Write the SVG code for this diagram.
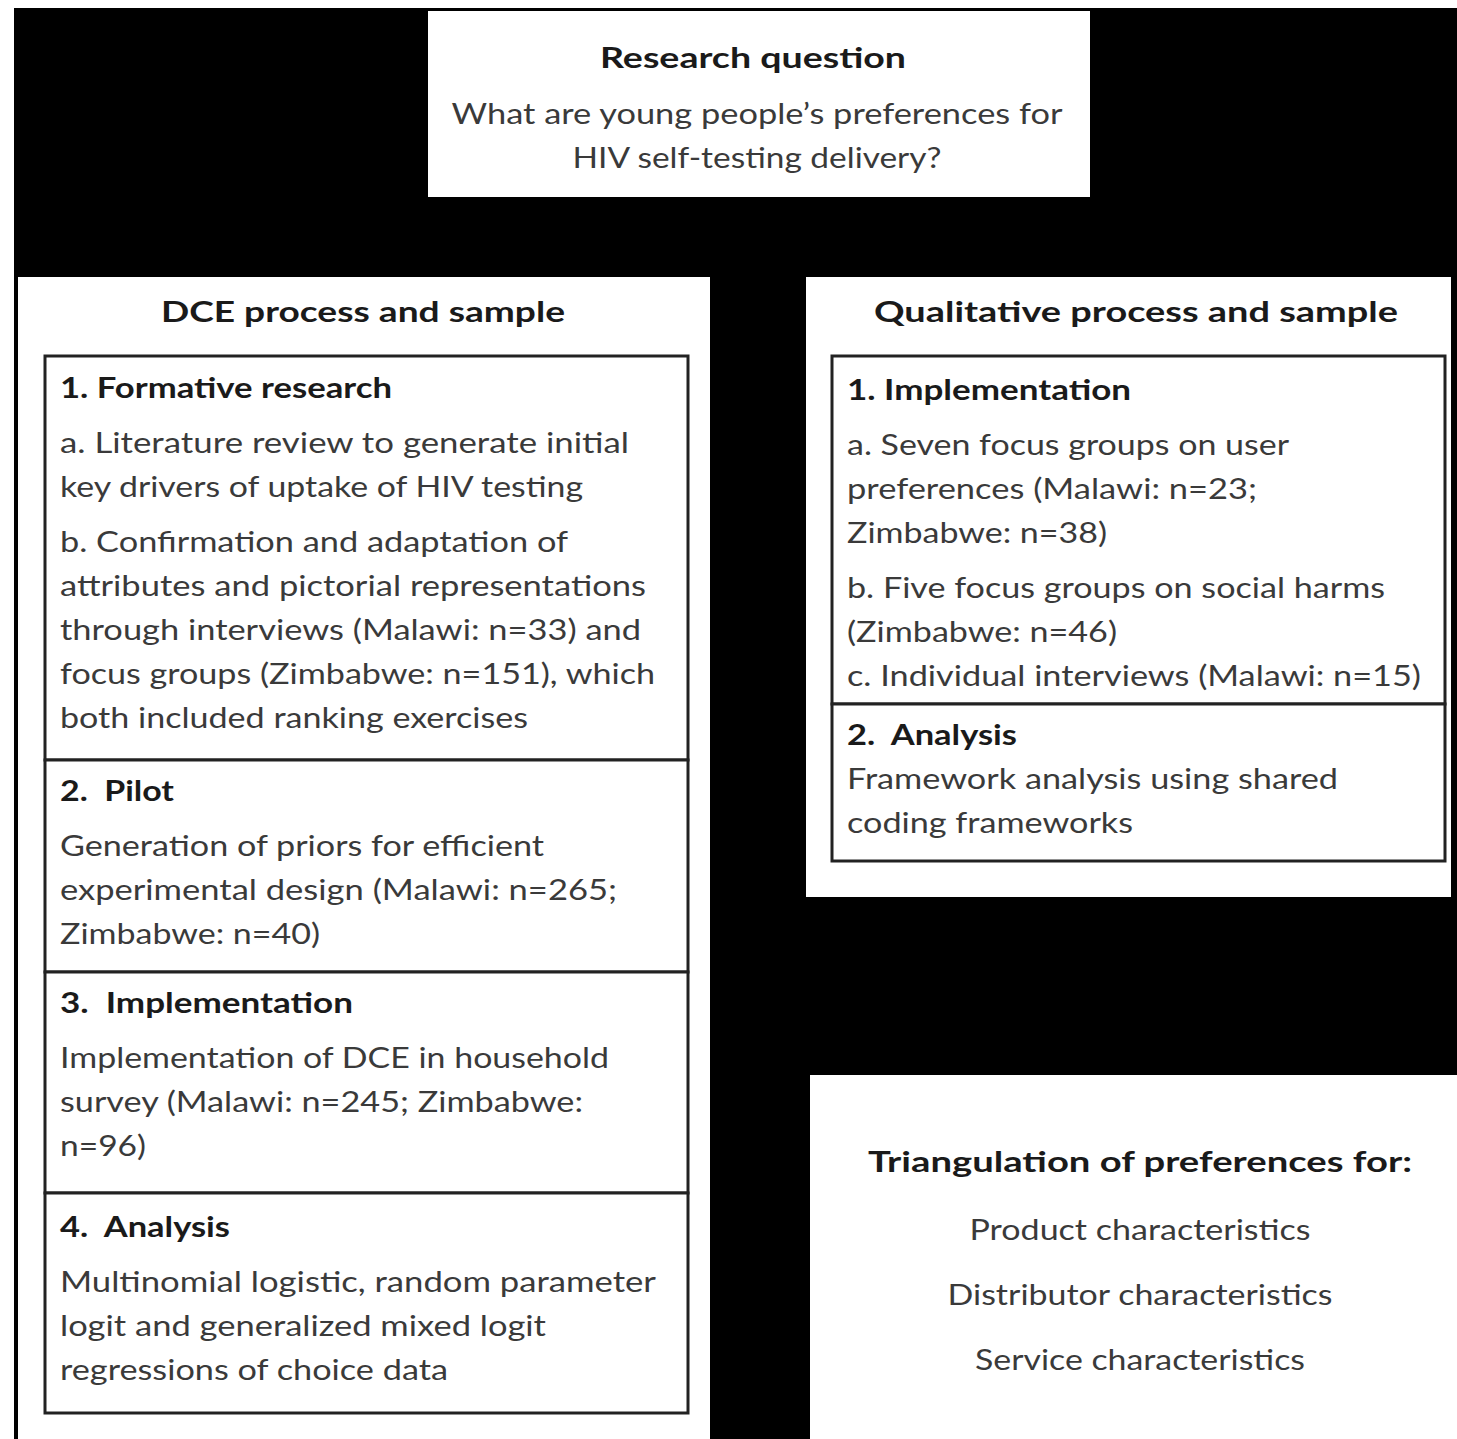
<svg xmlns="http://www.w3.org/2000/svg" width="1457" height="1439" viewBox="0 0 1457 1439">
<style>
text{font-family:Lato,"Liberation Sans","DejaVu Sans",sans-serif;font-size:29px;fill:#3a3a3a}
.h{font-weight:bold;fill:#1a1a1a}
.c{text-anchor:middle}
.pre{white-space:pre}
.panel{fill:#ffffff}
.box{fill:#ffffff;stroke:#222222;stroke-width:3}
</style>
<rect x="0" y="0" width="1457" height="1439" fill="#ffffff"/>
<rect x="14" y="8" width="1443" height="1431" fill="#000000"/>
<g id="connectors"></g>

<g id="research-question">
<rect class="panel" x="428" y="11" width="662" height="186"/>
<text class="h c" x="753" y="68" textLength="306" lengthAdjust="spacingAndGlyphs">Research question</text>
<text class="c" x="757" y="124" textLength="611" lengthAdjust="spacingAndGlyphs">What are young people’s preferences for</text>
<text class="c" x="757" y="168" textLength="369" lengthAdjust="spacingAndGlyphs">HIV self-testing delivery?</text>
</g>

<g id="dce-panel">
<rect class="panel" x="18" y="277" width="692" height="1162"/>
<text class="h c" x="363" y="322" textLength="404" lengthAdjust="spacingAndGlyphs">DCE process and sample</text>
</g>

<g id="dce-formative">
<rect class="box" x="45" y="356" width="643" height="404"/>
<text class="h" x="60" y="398" textLength="332" lengthAdjust="spacingAndGlyphs">1. Formative research</text>
<text x="60" y="453" textLength="569" lengthAdjust="spacingAndGlyphs">a. Literature review to generate initial</text>
<text x="60" y="497" textLength="523" lengthAdjust="spacingAndGlyphs">key drivers of uptake of HIV testing</text>
<text x="60" y="552" textLength="508" lengthAdjust="spacingAndGlyphs">b. Confirmation and adaptation of</text>
<text x="60" y="596" textLength="586" lengthAdjust="spacingAndGlyphs">attributes and pictorial representations</text>
<text x="60" y="640" textLength="581" lengthAdjust="spacingAndGlyphs">through interviews (Malawi: n=33) and</text>
<text x="60" y="684" textLength="595" lengthAdjust="spacingAndGlyphs">focus groups (Zimbabwe: n=151), which</text>
<text x="60" y="728" textLength="468" lengthAdjust="spacingAndGlyphs">both included ranking exercises</text>
</g>

<g id="dce-pilot">
<rect class="box" x="45" y="760" width="643" height="212"/>
<text class="h pre" x="60" y="801" xml:space="preserve" textLength="114" lengthAdjust="spacingAndGlyphs">2.  Pilot</text>
<text x="60" y="856" textLength="484" lengthAdjust="spacingAndGlyphs">Generation of priors for efficient</text>
<text x="60" y="900" textLength="557" lengthAdjust="spacingAndGlyphs">experimental design (Malawi: n=265;</text>
<text x="60" y="944" textLength="260" lengthAdjust="spacingAndGlyphs">Zimbabwe: n=40)</text>
</g>

<g id="dce-implementation">
<rect class="box" x="45" y="972" width="643" height="221"/>
<text class="h pre" x="60" y="1013" xml:space="preserve" textLength="293" lengthAdjust="spacingAndGlyphs">3.  Implementation</text>
<text x="60" y="1068" textLength="549" lengthAdjust="spacingAndGlyphs">Implementation of DCE in household</text>
<text x="60" y="1112" textLength="523" lengthAdjust="spacingAndGlyphs">survey (Malawi: n=245; Zimbabwe:</text>
<text x="60" y="1156" textLength="86" lengthAdjust="spacingAndGlyphs">n=96)</text>
</g>

<g id="dce-analysis">
<rect class="box" x="45" y="1193" width="643" height="220"/>
<text class="h pre" x="60" y="1237" xml:space="preserve" textLength="170" lengthAdjust="spacingAndGlyphs">4.  Analysis</text>
<text x="60" y="1292" textLength="596" lengthAdjust="spacingAndGlyphs">Multinomial logistic, random parameter</text>
<text x="60" y="1336" textLength="486" lengthAdjust="spacingAndGlyphs">logit and generalized mixed logit</text>
<text x="60" y="1380" textLength="388" lengthAdjust="spacingAndGlyphs">regressions of choice data</text>
</g>

<g id="qual-panel">
<rect class="panel" x="806" y="277" width="645" height="620"/>
<text class="h c" x="1136" y="322" textLength="524" lengthAdjust="spacingAndGlyphs">Qualitative process and sample</text>
</g>

<g id="qual-implementation">
<rect class="box" x="832" y="356" width="613" height="348"/>
<text class="h" x="847" y="400" textLength="284" lengthAdjust="spacingAndGlyphs">1. Implementation</text>
<text x="847" y="455" textLength="442" lengthAdjust="spacingAndGlyphs">a. Seven focus groups on user</text>
<text x="847" y="499" textLength="410" lengthAdjust="spacingAndGlyphs">preferences (Malawi: n=23;</text>
<text x="847" y="543" textLength="260" lengthAdjust="spacingAndGlyphs">Zimbabwe: n=38)</text>
<text x="847" y="598" textLength="538" lengthAdjust="spacingAndGlyphs">b. Five focus groups on social harms</text>
<text x="847" y="642" textLength="270" lengthAdjust="spacingAndGlyphs">(Zimbabwe: n=46)</text>
<text x="847" y="686" textLength="574" lengthAdjust="spacingAndGlyphs">c. Individual interviews (Malawi: n=15)</text>
</g>

<g id="qual-analysis">
<rect class="box" x="832" y="704" width="613" height="157"/>
<text class="h pre" x="847" y="745" xml:space="preserve" textLength="170" lengthAdjust="spacingAndGlyphs">2.  Analysis</text>
<text x="847" y="789" textLength="491" lengthAdjust="spacingAndGlyphs">Framework analysis using shared</text>
<text x="847" y="833" textLength="286" lengthAdjust="spacingAndGlyphs">coding frameworks</text>
</g>

<g id="triangulation">
<rect class="panel" x="810" y="1075" width="647" height="364"/>
<text class="h c" x="1140" y="1172" textLength="544" lengthAdjust="spacingAndGlyphs">Triangulation of preferences for:</text>
<text class="c" x="1140" y="1240" textLength="341" lengthAdjust="spacingAndGlyphs">Product characteristics</text>
<text class="c" x="1140" y="1305" textLength="385" lengthAdjust="spacingAndGlyphs">Distributor characteristics</text>
<text class="c" x="1140" y="1370" textLength="330" lengthAdjust="spacingAndGlyphs">Service characteristics</text>
</g>
</svg>
